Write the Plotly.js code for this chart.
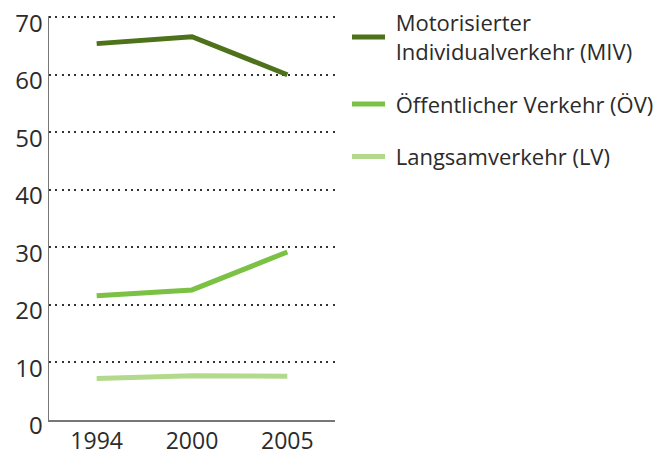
<!DOCTYPE html>
<html lang="de">
<head>
  <meta charset="UTF-8">
  <title>Modal Split</title>
  <script src="https://cdn.plot.ly/plotly-3.0.1.min.js"></script>
  <style>
    body { margin: 0; background: #fff; }
    #plot { width: 664px; height: 452px; }
  </style>
</head>
<body>
  <div id="plot"></div>
  <script>
    // Jahre und Anteile (in %)
    const years = ['1994', '2000', '2005'];
    const miv = [65.4, 66.6, 60.0];
    const oev = [21.6, 22.6, 29.2];
    const lv = [7.2, 7.7, 7.6];
    const yTicks = [0, 10, 20, 30, 40, 50, 60, 70];
    const names = [
      '\u00a0Motorisierter<br>\u00a0Individualverkehr (MIV)',
      '\u00a0Öffentlicher Verkehr (ÖV)',
      '\u00a0Langsamverkehr (LV)'
    ];
    const colors = ['#4d7219', '#7bc143', '#b3da8c'];

    const traces = [miv, oev, lv].map((vals, i) => ({
      x: years,
      y: vals,
      type: 'scatter',
      mode: 'lines',
      name: names[i],
      legendgroup: 'g' + i,
      line: { color: colors[i], width: 5 },
      hoverinfo: 'skip'
    }));

    const layout = {
      width: 664,
      height: 452,
      margin: { l: 49, r: 329, t: 16, b: 32 },
      paper_bgcolor: '#fff',
      plot_bgcolor: '#fff',
      font: { family: '"Open Sans", sans-serif', color: '#2b2b2b', size: 20 },
      showlegend: true,
      legend: {
        xref: 'container', yref: 'container',
        x: 0.5226, xanchor: 'left',
        y: 0.9956, yanchor: 'top',
        itemwidth: 33,
        tracegroupgap: 21,
        font: { size: 22, color: '#2b2b2b' },
        bgcolor: 'rgba(0,0,0,0)'
      },
      xaxis: {
        type: 'category',
        range: [-0.5, 2.5],
        showgrid: false,
        zeroline: false,
        showline: true,
        linecolor: '#777',
        linewidth: 1.5,
        ticks: '',
        tickfont: { size: 23 },
        fixedrange: true
      },
      yaxis: {
        range: [0, 70.2],
        tickvals: yTicks,
        showgrid: true,
        gridcolor: '#333',
        gridwidth: 2,
        griddash: '2px,4.3px',
        zeroline: false,
        showline: true,
        linecolor: '#777',
        linewidth: 1.5,
        ticks: '',
        ticklabelstandoff: 0,
        ticklabelshift: 6,
        ticklabeloverflow: 'allow',
        tickfont: { size: 24 },
        fixedrange: true
      }
    };

    Plotly.newPlot('plot', traces, layout, { displayModeBar: false, staticPlot: true });
  </script>
</body>
</html>
